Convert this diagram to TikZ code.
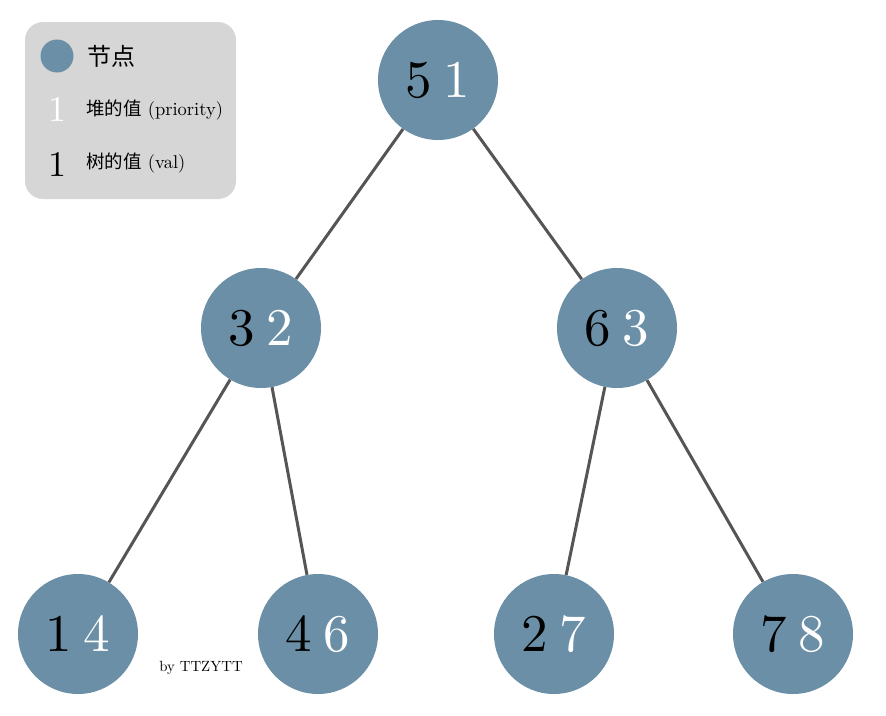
\documentclass[tikz,border=0pt]{standalone}
\usepackage{fontspec}
\setmainfont[Extension=.otf]{lmroman10-regular}
\newfontfamily\cjk{Noto Sans CJK SC}
\definecolor{nodeblue}{HTML}{6A8FA6}
\definecolor{edgegray}{HTML}{555555}
\definecolor{legendgray}{HTML}{D6D6D6}
\tikzset{
  treenode/.style={circle, fill=nodeblue, minimum size=120pt, inner sep=0pt, font=\fontsize{53}{58}\selectfont},
  treeedge/.style={draw=edgegray, line width=3pt},
  legendtext/.style={anchor=west, inner sep=0pt},
}
\newcommand{\kv}[2]{\textcolor{black}{#1}\hspace{0.22em}\textcolor{white}{#2}}
\begin{document}
\begin{tikzpicture}[x=1pt,y=-1pt]
\useasboundingbox (0,0) rectangle (886,715);
% legend
\node[fill=legendgray, rounded corners=18pt, minimum width=211pt, minimum height=177pt, inner sep=0pt] (legend) at (130.5,110.5) {};
\node[circle, fill=nodeblue, minimum size=33pt, inner sep=0pt] (lcirc) at (57,56) {};
\node[legendtext] (l1) at (87,56) {\cjk\fontsize{24}{26}\selectfont 节点};
\node[inner sep=0pt, text=white, font=\fontsize{36}{40}\selectfont] (lw) at (57,110) {1};
\node[legendtext] (l2) at (86,110) {\fontsize{18.5}{20}\selectfont{\cjk 堆的值} (priority)};
\node[inner sep=0pt, text=black, font=\fontsize{36}{40}\selectfont] (lb) at (57,165) {1};
\node[legendtext] (l3) at (86,163) {\fontsize{18.5}{20}\selectfont{\cjk 树的值} (val)};
% tree nodes
\node[treenode] (n51) at (438,80) {\kv{5}{1}};
\node[treenode] (n32) at (261,328) {\kv{3}{2}};
\node[treenode] (n63) at (617,328) {\kv{6}{3}};
\node[treenode] (n14) at (78,634) {\kv{1}{4}};
\node[treenode] (n46) at (318,634) {\kv{4}{6}};
\node[treenode] (n27) at (554,634) {\kv{2}{7}};
\node[treenode] (n78) at (793,634) {\kv{7}{8}};
% edges
\draw[treeedge] (n51) -- (n32);
\draw[treeedge] (n51) -- (n63);
\draw[treeedge] (n32) -- (n14);
\draw[treeedge] (n32) -- (n46);
\draw[treeedge] (n63) -- (n27);
\draw[treeedge] (n63) -- (n78);
% signature
\node[font=\fontsize{14.8}{16}\selectfont] (sig) at (201,668) {by TTZYTT};
\end{tikzpicture}
\end{document}
